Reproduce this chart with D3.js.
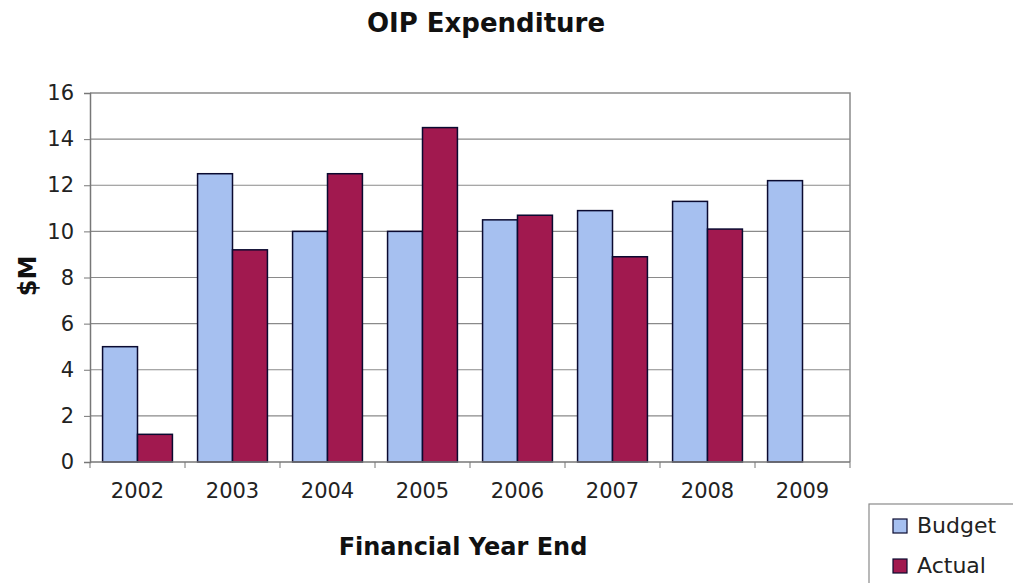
<!DOCTYPE html>
<html>
<head>
<meta charset="utf-8">
<script src="https://cdn.jsdelivr.net/npm/d3@7"></script>
<style>
  body { margin: 0; background: #fff; }
  svg { font-family: "DejaVu Sans", Verdana, sans-serif; }
</style>
</head>
<body>
<svg id="chart" width="1013" height="583"></svg>
<script>
const YEARS = ["2002", "2003", "2004", "2005", "2006", "2007", "2008", "2009"]
const SERIES = ["Budget", "Actual"]
const BUDGET = [5.0, 12.5, 10.0, 10.0, 10.5, 10.9, 11.3, 12.2]
const ACTUAL = [1.2, 9.2, 12.5, 14.5, 10.7, 8.9, 10.1, null]
const Y_TICKS = [0, 2, 4, 6, 8, 10, 12, 14, 16]

const COLORS = { Budget: "#a6c0f0", Actual: "#a1194f" }
const PLOT = { left: 90, right: 850, top: 93, bottom: 462 }

const svg = d3.select("#chart")

const x0 = d3.scaleBand()
    .domain(YEARS)
    .range([PLOT.left, PLOT.right])
    .padding(0)

const x1 = d3.scaleBand()
    .domain(SERIES)
    .range([0, x0.bandwidth()])
    .paddingInner(0)
    .paddingOuter(0.36)

const y = d3.scaleLinear()
    .domain([0, 16])
    .range([PLOT.bottom, PLOT.top])

// plot border (top + right)
svg.append("path")
    .attr("d", `M${PLOT.left},${PLOT.top}H${PLOT.right}V${PLOT.bottom}`)
    .attr("fill", "none")
    .attr("stroke", "#8a8a8a")
    .attr("stroke-width", 1.5)

// gridlines
svg.append("g")
    .selectAll("line")
    .data(Y_TICKS.filter(d => d > 0 && d < 16))
    .join("line")
    .attr("x1", PLOT.left)
    .attr("x2", PLOT.right)
    .attr("y1", d => y(d))
    .attr("y2", d => y(d))
    .attr("stroke", "#8a8a8a")
    .attr("stroke-width", 1.2)

const rows = YEARS.map((yr, i) => ({ year: yr, Budget: BUDGET[i], Actual: ACTUAL[i] }))

svg.append("g")
    .selectAll("g")
    .data(rows)
    .join("g")
    .attr("transform", d => `translate(${x0(d.year)},0)`)
    .selectAll("rect")
    .data(d => SERIES.filter(s => d[s] != null).map(s => ({ key: s, value: d[s] })))
    .join("rect")
    .attr("x", d => x1(d.key))
    .attr("width", x1.bandwidth())
    .attr("y", d => y(d.value))
    .attr("height", d => y(0) - y(d.value))
    .attr("fill", d => COLORS[d.key])
    .attr("stroke", "#0a0a30")
    .attr("stroke-width", 1.5)

// y axis
const yAxis = svg.append("g")
    .attr("transform", `translate(${PLOT.left},0)`)
    .call(d3.axisLeft(y).tickValues(Y_TICKS).tickSize(6).tickPadding(10))
yAxis.select(".domain").attr("stroke", "#777").attr("stroke-width", 1.5)
yAxis.selectAll(".tick line").attr("stroke", "#777")
yAxis.selectAll("text").attr("font-size", 21).attr("fill", "#222")
    .attr("font-family", "DejaVu Sans")

// x axis: ticks on band boundaries
const xAxis = svg.append("g")
    .attr("transform", `translate(0,${PLOT.bottom})`)
xAxis.append("line")
    .attr("x1", PLOT.left).attr("x2", PLOT.right)
    .attr("stroke", "#777").attr("stroke-width", 1.5)
xAxis.selectAll(".bt")
    .data(YEARS.concat(["end"]))
    .join("line")
    .attr("class", "bt")
    .attr("x1", (d, i) => i < YEARS.length ? x0(d) : PLOT.right)
    .attr("x2", (d, i) => i < YEARS.length ? x0(d) : PLOT.right)
    .attr("y1", 0).attr("y2", 6)
    .attr("stroke", "#777")
xAxis.selectAll("text")
    .data(YEARS)
    .join("text")
    .attr("x", d => x0(d) + x0.bandwidth() / 2)
    .attr("y", 36)
    .attr("text-anchor", "middle")
    .attr("font-size", 21)
    .attr("fill", "#222")
    .text(d => d)

// titles
svg.append("text")
    .attr("x", 486).attr("y", 32)
    .attr("text-anchor", "middle")
    .attr("font-size", 26).attr("font-weight", "bold")
    .attr("fill", "#111")
    .text("OIP Expenditure")

svg.append("text")
    .attr("x", 463).attr("y", 555)
    .attr("text-anchor", "middle")
    .attr("font-size", 24).attr("font-weight", "bold")
    .attr("fill", "#111")
    .text("Financial Year End")

svg.append("text")
    .attr("transform", "translate(36,276) rotate(-90)")
    .attr("text-anchor", "middle")
    .attr("font-size", 24).attr("font-weight", "bold")
    .attr("fill", "#111")
    .text("$M")

// legend
const legend = svg.append("g").attr("transform", "translate(869,504)")
legend.append("rect")
    .attr("width", 200).attr("height", 100)
    .attr("fill", "#fff")
    .attr("stroke", "#8a8a8a").attr("stroke-width", 1.2)
const items = legend.selectAll("g")
    .data(SERIES)
    .join("g")
    .attr("transform", (d, i) => `translate(24,${15 + i * 40})`)
items.append("rect")
    .attr("width", 14).attr("height", 14)
    .attr("fill", d => COLORS[d])
    .attr("stroke", "#0a0a30").attr("stroke-width", 1.2)
items.append("text")
    .attr("x", 24).attr("y", 14)
    .attr("font-size", 22)
    .attr("fill", "#222")
    .text(d => d)
</script>
</body>
</html>
